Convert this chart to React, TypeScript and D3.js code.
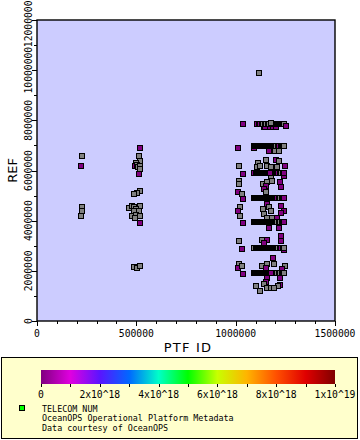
import React from "react";
import * as d3 from "d3";

// [PTF ID, REF, TELECOM NUM] ; null telecom = missing value (drawn grey)
type Obs = [number, number, number | null];

const xTickValues = [0, 500000, 1000000, 1500000];
const yTickValues = [0, 2000000, 4000000, 6000000, 8000000, 10000000, 12000000];
const cbarTickLabels = ["0", "2x10^18", "4x10^18", "6x10^18", "8x10^18", "1x10^19"];
const cbarStops = [0, 1e18, 2e18, 3e18, 4e18, 5e18, 6e18, 7e18, 8e18, 9e18, 1e19];
const cbarColors = [
  "#800080", "#e000e0", "#5a14ff", "#0068ff", "#00ffc8", "#00ff00",
  "#c8ff00", "#ffb400", "#ff5000", "#e00000", "#800000",
];
const legendLines = ["TELECOM NUM", "OceanOPS Operational Platform Metadata", "Data courtesy of OceanOPS"];

const groupA: Obs[] = [
  [225000, 6580000, null], [221000, 6180000, 3e14], [226000, 4580000, null],
  [226000, 4390000, null], [221000, 4190000, null],
];

const groupB: Obs[] = [
  [518000, 6910000, 3e14], [513000, 6580000, null], [516000, 6380000, null],
  [498000, 6300000, null], [493000, 6180000, 3e14], [500000, 6220000, null],
  [506000, 6140000, null], [516000, 6180000, null], [516000, 6060000, null],
  [513000, 5900000, 3e14], [515000, 5200000, null], [502000, 5130000, null],
  [485000, 5090000, null], [462000, 4520000, null], [477000, 4600000, null],
  [518000, 4600000, null], [488000, 4580000, null], [498000, 4500000, null],
  [488000, 4390000, null], [510000, 4400000, null], [477000, 4200000, null],
  [498000, 4230000, null], [518000, 4190000, null], [493000, 4130000, null],
  [517000, 3920000, 3e14], [485000, 2180000, null], [503000, 2150000, null],
  [517000, 2200000, null],
];

const groupCLeft: Obs[] = [
  [1117000, 9890000, null],
  [1032000, 7890000, 3e14], [1007000, 6900000, 3e14], [1012000, 6180000, null],
  [1032000, 5900000, 3e14], [1012000, 5620000, null], [1012000, 5500000, null],
  [1007000, 5180000, 3e14], [1027000, 5100000, null], [1032000, 4900000, 3e14],
  [1017000, 4580000, null], [1007000, 4390000, 3e14], [1017000, 4190000, null],
  [1032000, 3910000, 3e14], [1012000, 3190000, null], [1027000, 2910000, 3e14],
  [1012000, 2310000, null], [1007000, 2150000, 3e14], [1027000, 2230000, null],
  [1032000, 1910000, 3e14],
];

const groupCScatter: Obs[] = [
  [1088000, 6910000, 3e14], [1164000, 6790000, 3e14], [1193000, 6800000, null],
  [1215000, 6790000, null], [1148000, 6420000, null], [1198000, 6420000, 3e14],
  [1215000, 6380000, null], [1112000, 6300000, null], [1106000, 6150000, null],
  [1119000, 6180000, null], [1156000, 6180000, null], [1176000, 6150000, null],
  [1207000, 6150000, null], [1245000, 6180000, 3e14], [1173000, 5750000, null],
  [1240000, 5820000, 3e14], [1133000, 5500000, null], [1181000, 5620000, null],
  [1156000, 5580000, null], [1223000, 5580000, 3e14], [1228000, 5350000, 3e14],
  [1148000, 5420000, 3e14], [1138000, 5300000, 3e14], [1148000, 5180000, null],
  [1153000, 4700000, 3e14], [1133000, 4500000, null], [1164000, 4580000, null],
  [1228000, 4600000, 3e14], [1240000, 4420000, 3e14], [1173000, 4400000, null],
  [1228000, 4310000, 3e14], [1138000, 4270000, null], [1153000, 4110000, null],
  [1178000, 4110000, null], [1208000, 4120000, 3e14], [1164000, 3740000, 3e14],
  [1215000, 3740000, 3e14], [1228000, 3400000, 3e14], [1128000, 3230000, null],
  [1156000, 3230000, 3e14], [1228000, 3200000, 3e14], [1138000, 3110000, 3e14],
  [1243000, 2860000, 3e14], [1184000, 2520000, 3e14], [1131000, 2200000, null],
  [1156000, 2300000, null], [1189000, 2300000, null], [1245000, 2200000, null],
  [1151000, 2130000, 3e14], [1232000, 2100000, 3e14], [1156000, 1730000, 3e14],
  [1223000, 1730000, 3e14], [1148000, 1570000, 3e14], [1138000, 1480000, null],
  [1223000, 1440000, 3e14], [1101000, 1410000, null], [1211000, 1410000, null],
  [1156000, 1330000, null], [1173000, 1330000, null], [1189000, 1330000, null],
  [1118000, 1200000, null],
];

const subRow79: Obs[] = [
  [1140000, 7770000, 3e14], [1147000, 7770000, 3e14], [1172000, 7770000, 3e14],
  [1183000, 7770000, 3e14], [1200000, 7770000, 3e14],
];

const row79: Obs[] = [
  [1103000, 7890000, null], [1107000, 7890000, 3e14], [1113000, 7890000, null], [1117000, 7890000, null],
  [1122000, 7890000, 3e14], [1128000, 7890000, null], [1132000, 7890000, null], [1137000, 7890000, null],
  [1143000, 7890000, 3e14], [1147000, 7890000, null], [1152000, 7890000, null], [1158000, 7890000, null],
  [1162000, 7890000, 3e14], [1167000, 7890000, null], [1173000, 7890000, null], [1177000, 7890000, null],
  [1182000, 7890000, null], [1188000, 7890000, 3e14], [1192000, 7890000, null], [1197000, 7890000, null],
  [1203000, 7890000, null], [1207000, 7890000, 3e14], [1212000, 7890000, null], [1218000, 7890000, null],
  [1222000, 7890000, null], [1227000, 7890000, 3e14], [1233000, 7890000, null], [1237000, 7890000, null],
  [1243000, 7890000, null],
];

const row70: Obs[] = [
  [1088000, 6980000, null], [1093000, 6980000, null], [1098000, 6980000, 3e14], [1104000, 6980000, null],
  [1108000, 6980000, null], [1113000, 6980000, null], [1119000, 6980000, 3e14], [1123000, 6980000, null],
  [1128000, 6980000, null], [1134000, 6980000, null], [1138000, 6980000, 3e14], [1143000, 6980000, null],
  [1149000, 6980000, null], [1153000, 6980000, null], [1158000, 6980000, 3e14], [1164000, 6980000, null],
  [1168000, 6980000, null], [1173000, 6980000, null], [1179000, 6980000, 3e14], [1183000, 6980000, null],
  [1188000, 6980000, null], [1194000, 6980000, null], [1198000, 6980000, 3e14], [1203000, 6980000, null],
  [1209000, 6980000, null], [1213000, 6980000, null], [1218000, 6980000, 3e14], [1224000, 6980000, null],
  [1228000, 6980000, null], [1233000, 6980000, null], [1238000, 6980000, null], [1243000, 6980000, null],
];

const row59: Obs[] = [
  [1088000, 5940000, null], [1092000, 5940000, 3e14], [1098000, 5940000, null], [1103000, 5940000, null],
  [1108000, 5940000, null], [1114000, 5940000, 3e14], [1118000, 5940000, null], [1123000, 5940000, null],
  [1129000, 5940000, null], [1133000, 5940000, 3e14], [1138000, 5940000, null], [1144000, 5940000, null],
  [1148000, 5940000, null], [1153000, 5940000, 3e14], [1159000, 5940000, null], [1163000, 5940000, null],
  [1168000, 5940000, null], [1174000, 5940000, 3e14], [1178000, 5940000, null], [1183000, 5940000, null],
  [1189000, 5940000, null], [1193000, 5940000, 3e14], [1198000, 5940000, null], [1204000, 5940000, null],
  [1208000, 5940000, null], [1213000, 5940000, 3e14], [1219000, 5940000, null], [1223000, 5940000, null],
  [1228000, 5940000, null], [1234000, 5940000, null], [1238000, 5940000, null], [1242000, 5920000, 3e14],
];

const row49: Obs[] = [
  [1088000, 4940000, 3e14], [1093000, 4940000, null], [1099000, 4940000, null], [1103000, 4940000, null],
  [1108000, 4940000, 3e14], [1113000, 4940000, null], [1118000, 4940000, null], [1124000, 4940000, null],
  [1128000, 4940000, 3e14], [1133000, 4940000, null], [1139000, 4940000, null], [1143000, 4940000, null],
  [1148000, 4940000, 3e14], [1154000, 4940000, null], [1158000, 4940000, null], [1163000, 4940000, null],
  [1169000, 4940000, 3e14], [1173000, 4940000, null], [1178000, 4940000, null], [1184000, 4940000, null],
  [1188000, 4940000, 3e14], [1193000, 4940000, null], [1199000, 4940000, null], [1203000, 4940000, null],
  [1208000, 4940000, 3e14], [1214000, 4940000, null], [1218000, 4940000, null], [1223000, 4940000, null],
  [1229000, 4940000, 3e14], [1233000, 4940000, null], [1238000, 4940000, null], [1242000, 4940000, 3e14],
];

const row39: Obs[] = [
  [1088000, 3950000, null], [1093000, 3950000, null], [1098000, 3950000, 3e14], [1103000, 3950000, null],
  [1109000, 3950000, null], [1113000, 3950000, null], [1118000, 3950000, 3e14], [1124000, 3950000, null],
  [1128000, 3950000, null], [1133000, 3950000, null], [1138000, 3950000, 3e14], [1144000, 3950000, null],
  [1148000, 3950000, null], [1153000, 3950000, null], [1159000, 3950000, 3e14], [1163000, 3950000, null],
  [1168000, 3950000, null], [1173000, 3950000, null], [1179000, 3950000, 3e14], [1183000, 3950000, null],
  [1188000, 3950000, null], [1194000, 3950000, null], [1198000, 3950000, 3e14], [1203000, 3950000, null],
  [1208000, 3950000, null], [1214000, 3950000, null], [1218000, 3950000, 3e14], [1223000, 3950000, null],
  [1229000, 3950000, null], [1233000, 3950000, null], [1238000, 3950000, null], [1242000, 3950000, 3e14],
];

const row29: Obs[] = [
  [1088000, 2950000, 3e14], [1092000, 2950000, null], [1098000, 2950000, null], [1103000, 2950000, null],
  [1108000, 2950000, 3e14], [1114000, 2950000, null], [1118000, 2950000, null], [1123000, 2950000, null],
  [1129000, 2950000, 3e14], [1133000, 2950000, null], [1138000, 2950000, null], [1144000, 2950000, null],
  [1148000, 2950000, 3e14], [1153000, 2950000, null], [1159000, 2950000, null], [1163000, 2950000, null],
  [1168000, 2950000, 3e14], [1174000, 2950000, null], [1178000, 2950000, null], [1183000, 2950000, null],
  [1189000, 2950000, 3e14], [1193000, 2950000, null], [1198000, 2950000, null], [1204000, 2950000, null],
  [1208000, 2950000, 3e14], [1213000, 2950000, null], [1219000, 2950000, null], [1223000, 2950000, null],
  [1228000, 2950000, 3e14], [1234000, 2950000, null], [1238000, 2950000, null], [1242000, 2950000, null],
];

const row19: Obs[] = [
  [1088000, 1950000, null], [1093000, 1950000, null], [1099000, 1950000, 3e14], [1103000, 1950000, null],
  [1108000, 1950000, null], [1113000, 1950000, null], [1118000, 1950000, 3e14], [1124000, 1950000, null],
  [1128000, 1950000, null], [1133000, 1950000, null], [1139000, 1950000, 3e14], [1143000, 1950000, null],
  [1148000, 1950000, null], [1154000, 1950000, null], [1158000, 1950000, 3e14], [1163000, 1950000, null],
  [1169000, 1950000, null], [1173000, 1950000, null], [1178000, 1950000, 3e14], [1184000, 1950000, null],
  [1188000, 1950000, null], [1193000, 1950000, null], [1199000, 1950000, 3e14], [1203000, 1950000, null],
  [1208000, 1950000, null], [1214000, 1950000, null], [1218000, 1950000, 3e14], [1223000, 1950000, null],
  [1229000, 1950000, null], [1233000, 1950000, null], [1238000, 1950000, null], [1243000, 1950000, null],
];

const lastDrawn: Obs[] = [
  [1251000, 7790000, 3e14], [1173000, 7930000, null], [1168000, 5930000, 3e14],
  [1173000, 1920000, 3e14], [1243000, 6990000, null],
];

const allObs: Obs[] = [
  ...groupA, ...groupB, ...groupCLeft, ...groupCScatter, ...subRow79,
  ...row79, ...row70, ...row59, ...row49, ...row39, ...row29, ...row19, ...lastDrawn,
];

const MONO = "'DejaVu Sans Mono', 'Liberation Mono', monospace";
const SANS = "'DejaVu Sans', 'Liberation Sans', sans-serif";

export default function App() {
  const width = 360;
  const height = 440;
  const plot = { left: 37, right: 335, top: 20, bottom: 321 };

  const x = d3.scaleLinear().domain([0, 1500000]).range([plot.left, plot.right]);
  const y = d3.scaleLinear().domain([0, 12000000]).range([plot.bottom, plot.top]);
  const color = d3
    .scaleLinear<string>()
    .domain(cbarStops)
    .range(cbarColors)
    .interpolate(d3.interpolateRgb)
    .clamp(true);
  const cb = d3.scaleLinear().domain([0, 1e19]).range([41, 335]);

  const xMinor = x.ticks(15);
  const yMinor = y.ticks(12);
  const cbTicks = cb.ticks(10);
  const cbLabelValues = cbTicks.filter((_, i) => i % 2 === 0);
  const sq = 5;
  const fmt = d3.format("d");
  const charW = 5.84;

  return (
    <svg
      width={width}
      height={height}
      style={{ position: "absolute", left: 0, top: 0, display: "block", background: "#fff" }}
    >
      <defs>
        <linearGradient id="cbar" x1="0" x2="1" y1="0" y2="0">
          {cbarStops.map((s, i) => (
            <stop key={i} offset={s / 1e19} stopColor={cbarColors[i]} />
          ))}
        </linearGradient>
      </defs>

      <rect
        x={plot.left}
        y={plot.top}
        width={plot.right - plot.left}
        height={plot.bottom - plot.top}
        fill="#ccccff"
      />

      <g shapeRendering="crispEdges">
        {allObs.map((d, i) => (
          <rect
            key={i}
            x={Math.round(x(d[0]) - sq / 2) + 0.5}
            y={Math.round(y(d[1]) - sq / 2) + 0.5}
            width={sq}
            height={sq}
            fill={d[2] == null ? "#808080" : color(d[2])}
            stroke="#000"
            strokeWidth={1}
          />
        ))}
      </g>

      <rect
        x={plot.left}
        y={plot.top}
        width={plot.right - plot.left}
        height={plot.bottom - plot.top}
        fill="none"
        stroke="#000"
        strokeWidth={1.4}
      />

      {/* axis ticks */}
      <g stroke="#000" strokeWidth={1}>
        {xMinor.map((t) => (
          <line
            key={t}
            x1={Math.round(x(t)) + 0.5}
            x2={Math.round(x(t)) + 0.5}
            y1={plot.bottom}
            y2={plot.bottom + (t % 500000 === 0 ? 5 : 3)}
          />
        ))}
        {yMinor.map((t) => (
          <line
            key={t}
            x1={plot.left - (t % 2000000 === 0 ? 5 : 3)}
            x2={plot.left}
            y1={Math.round(y(t)) + 0.5}
            y2={Math.round(y(t)) + 0.5}
          />
        ))}
      </g>

      <g fontFamily={MONO} fontSize={9.7} fill="#000">
        {xTickValues.map((t) => (
          <text key={t} x={x(t)} y={337} textAnchor="middle">
            {fmt(t)}
          </text>
        ))}
        {yTickValues.map((t) => {
          const half = (fmt(t).length * charW) / 2;
          const cy = Math.max(y(t), half + 0.5);
          return (
            <text key={t} transform={`translate(32,${cy}) rotate(-90)`} textAnchor="middle">
              {fmt(t)}
            </text>
          );
        })}
      </g>

      <text x={188} y={352} textAnchor="middle" fontFamily={SANS} fontSize={13} letterSpacing={1.2}>
        PTF ID
      </text>
      <text
        transform={`translate(17,${(plot.top + plot.bottom) / 2}) rotate(-90)`}
        textAnchor="middle"
        fontFamily={SANS}
        fontSize={13}
      >
        REF
      </text>

      {/* legend */}
      <rect x={1.5} y={357.5} width={356} height={81} fill="#ffffcc" stroke="#000" strokeWidth={1} />
      <rect x={cb(0)} y={370} width={cb(1e19) - cb(0)} height={14} fill="url(#cbar)" />
      <g stroke="#000" strokeWidth={1}>
        {cbTicks.map((t) => (
          <line key={t} x1={Math.round(cb(t)) + 0.5} x2={Math.round(cb(t)) + 0.5} y1={384} y2={387} />
        ))}
      </g>
      <g fontFamily={MONO} fontSize={9.7} fill="#000">
        {cbLabelValues.map((t, i) => (
          <text key={t} x={cb(t)} y={398} textAnchor="middle">
            {cbarTickLabels[i]}
          </text>
        ))}
      </g>
      <rect
        x={19.5}
        y={405.5}
        width={5}
        height={5}
        fill="#00ff00"
        stroke="#000"
        strokeWidth={1}
        shapeRendering="crispEdges"
      />
      <g fontFamily={MONO} fontSize={8.4} fill="#000">
        {legendLines.map((s, i) => (
          <text key={i} x={42} y={411.5 + i * 9.6}>
            {s}
          </text>
        ))}
      </g>
    </svg>
  );
}
